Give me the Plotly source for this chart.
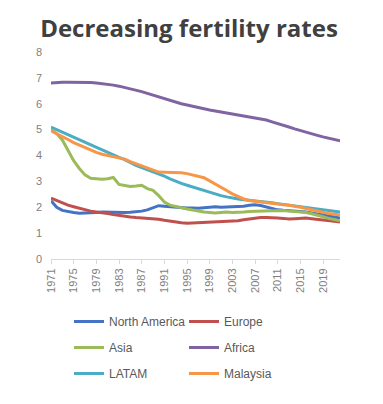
import plotly.graph_objects as go

years = list(range(1971, 2023))

north_america = [2.25, 2.0, 1.88, 1.83, 1.8, 1.77, 1.78, 1.77, 1.8, 1.82,
                 1.81, 1.8, 1.8, 1.8, 1.81, 1.82, 1.85, 1.9, 1.98, 2.06,
                 2.04, 2.02, 2.0, 1.98, 1.97, 1.97, 1.96, 1.98, 2.0, 2.02,
                 2.0, 2.0, 2.02, 2.03, 2.04, 2.08, 2.1, 2.07, 2.02, 1.95,
                 1.9, 1.88, 1.87, 1.86, 1.84, 1.82, 1.78, 1.74, 1.7, 1.65,
                 1.61, 1.58]
europe = [2.35, 2.25, 2.15, 2.08, 2.02, 1.96, 1.9, 1.85, 1.82, 1.8,
          1.76, 1.72, 1.68, 1.64, 1.62, 1.6, 1.59, 1.58, 1.56, 1.54,
          1.5, 1.46, 1.42, 1.4, 1.38, 1.39, 1.4, 1.4, 1.41, 1.42,
          1.43, 1.44, 1.45, 1.48, 1.52, 1.55, 1.58, 1.6, 1.6, 1.6,
          1.58, 1.57, 1.55, 1.56, 1.57, 1.58, 1.56, 1.54, 1.52, 1.49,
          1.46, 1.43]
asia = [5.0, 4.85, 4.6, 4.2, 3.8, 3.5, 3.25, 3.12, 3.1, 3.08,
        3.1, 3.15, 2.88, 2.83, 2.8, 2.82, 2.85, 2.72, 2.65, 2.45,
        2.2, 2.08, 2.02, 1.98, 1.93, 1.89, 1.85, 1.82, 1.8, 1.78,
        1.8, 1.82, 1.8, 1.8, 1.82, 1.84, 1.85, 1.86, 1.86, 1.86,
        1.86, 1.87, 1.85, 1.84, 1.82, 1.8, 1.75, 1.7, 1.63, 1.57,
        1.52, 1.48]
africa = [6.8, 6.82, 6.83, 6.83, 6.83, 6.83, 6.83, 6.82, 6.8, 6.78,
          6.75, 6.72, 6.68, 6.63, 6.58, 6.53, 6.47, 6.4, 6.33, 6.26,
          6.2, 6.13, 6.06, 6.0, 5.95, 5.9, 5.84, 5.8, 5.76, 5.72,
          5.68, 5.64, 5.61, 5.57, 5.54, 5.5, 5.47, 5.42, 5.37, 5.3,
          5.24, 5.17, 5.1, 5.03, 4.96, 4.9, 4.84, 4.78, 4.72, 4.67,
          4.62, 4.57]
latam = [5.1, 5.0, 4.9, 4.8, 4.7, 4.6, 4.5, 4.42, 4.33, 4.22,
         4.12, 4.02, 3.93, 3.84, 3.72, 3.62, 3.53, 3.45, 3.38, 3.3,
         3.2, 3.1, 3.0, 2.92, 2.85, 2.78, 2.71, 2.64, 2.57, 2.5,
         2.45, 2.4, 2.35, 2.32, 2.29, 2.27, 2.25, 2.22, 2.2, 2.17,
         2.14, 2.11, 2.08, 2.05, 2.02, 1.99, 1.96, 1.93, 1.9, 1.87,
         1.84, 1.82]
malaysia = [4.95, 4.85, 4.75, 4.62, 4.5, 4.4, 4.3, 4.2, 4.12, 4.05,
            4.0, 3.95, 3.92, 3.86, 3.76, 3.68, 3.6, 3.5, 3.42, 3.36,
            3.35, 3.35, 3.34, 3.33, 3.3, 3.25, 3.2, 3.14, 3.02, 2.9,
            2.8, 2.65, 2.52, 2.42, 2.32, 2.26, 2.23, 2.2, 2.18, 2.15,
            2.12, 2.1, 2.08, 2.05, 2.0, 1.95, 1.9, 1.85, 1.8, 1.76,
            1.73, 1.7]

tick_years = list(range(1971, 2020, 4))

series = [
    ("North America", north_america, "#4472C4", "legend", "g1"),
    ("Europe", europe, "#C0504D", "legend2", "g2"),
    ("Asia", asia, "#9BBB59", "legend", "g3"),
    ("Africa", africa, "#8064A2", "legend2", "g4"),
    ("LATAM", latam, "#4BACC6", "legend", "g5"),
    ("Malaysia", malaysia, "#F79646", "legend2", "g6"),
]

fig = go.Figure()
for name, vals, color, leg, grp in series:
    fig.add_trace(go.Scatter(
        x=years, y=vals, name=name, mode="lines",
        line=dict(color=color, width=3),
        legend=leg, legendgroup=grp,
    ))

legend_font = dict(family="Liberation Sans", size=12, color="#595959")

# page body adds an 8px offset; positions below are in figure coordinates
plot_l, plot_r, plot_t, plot_b = 43, 332, 44, 251
W, H = 383, 404
pw, ph = plot_r - plot_l, plot_b - plot_t
leg_top = 299

fig.update_layout(
    width=W, height=H,
    margin=dict(l=plot_l, r=W - plot_r, t=plot_t, b=H - plot_b),
    paper_bgcolor="white", plot_bgcolor="white",
    title=dict(text="<b>Decreasing fertility rates</b>",
               font=dict(family="Open Sans", size=24, color="#404040"),
               x=181 / W, xanchor="center", xref="container",
               y=1 - 21 / H, yanchor="middle", yref="container"),
    xaxis=dict(range=[1971, 2022], tickvals=tick_years,
               ticktext=[str(y) for y in tick_years], tickangle=-90,
               showgrid=False, showline=True, linecolor="#d9d9d9", linewidth=1,
               ticks="outside", ticklen=4, tickcolor="#d9d9d9",
               tickfont=dict(family="Liberation Sans", size=11, color="#7f7f7f"),
               zeroline=False, fixedrange=True),
    yaxis=dict(range=[0, 8], dtick=1, showgrid=False, showline=False,
               zeroline=False, ticks="", ticklabelstandoff=8,
               tickfont=dict(family="Liberation Sans", size=11, color="#7f7f7f")),
    legend=dict(x=(61 - plot_l) / pw, xanchor="left", y=-(leg_top - plot_b) / ph, yanchor="top",
                orientation="v", traceorder="grouped", tracegroupgap=7,
                font=legend_font, bgcolor="rgba(0,0,0,0)"),
    legend2=dict(x=(176 - plot_l) / pw, xanchor="left", y=-(leg_top - plot_b) / ph, yanchor="top",
                 orientation="v", traceorder="grouped", tracegroupgap=7,
                 font=legend_font, bgcolor="rgba(0,0,0,0)"),
    showlegend=True,
)

fig.write_html("out.html")
